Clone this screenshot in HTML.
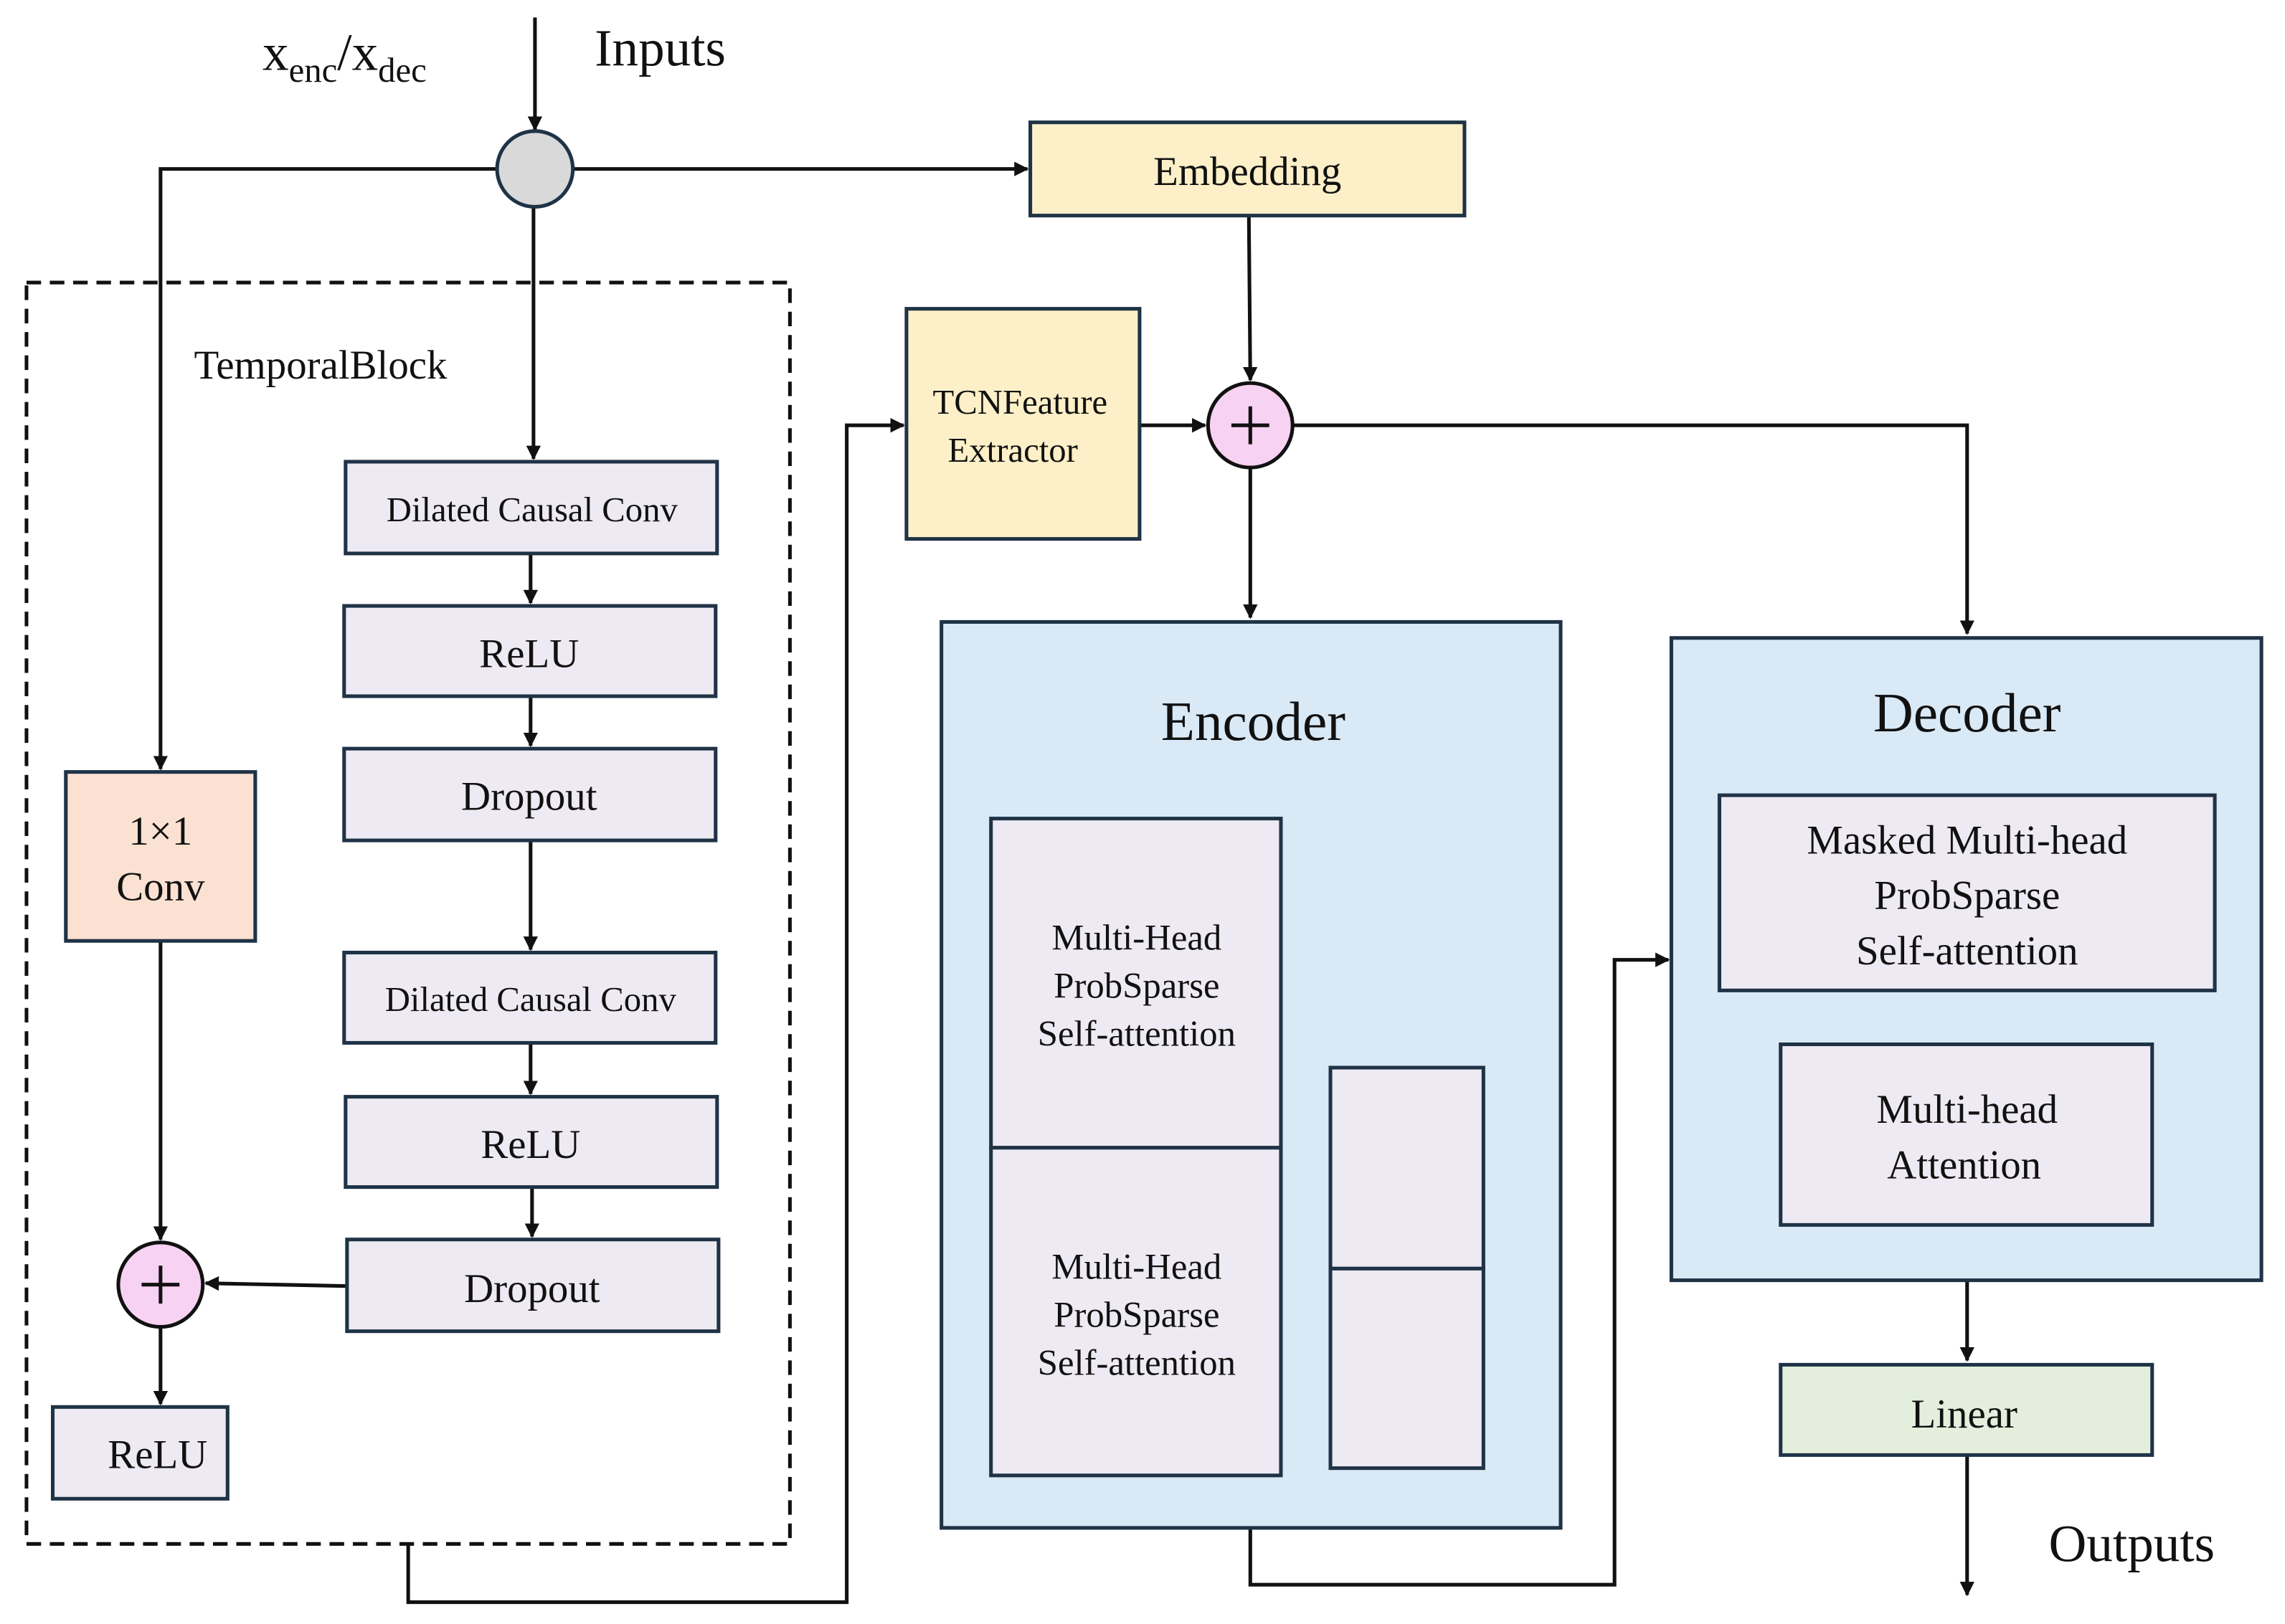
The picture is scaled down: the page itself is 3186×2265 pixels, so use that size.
<!DOCTYPE html>
<html><head><meta charset="utf-8"><style>
html,body{margin:0;padding:0;background:#fff;}
svg{display:block;}
svg text{font-family:"Liberation Serif","DejaVu Serif",serif !important;fill:#111;}
</style></head><body>
<svg width="3186" height="2265" viewBox="0 0 1568 1115" xmlns="http://www.w3.org/2000/svg" font-family="'Liberation Serif', 'DejaVu Serif', serif">
<defs>
<marker id="a" markerWidth="10" markerHeight="10" refX="9" refY="5" orient="auto" markerUnits="userSpaceOnUse">
<path d="M0,0 L10,5 L0,10 z" fill="#111"/></marker>
</defs>
<g stroke="#111" stroke-width="2.5" fill="none">
<line x1="367" y1="12" x2="367" y2="89" marker-end="url(#a)"/>
<polyline points="341,116 110,116 110,528" marker-end="url(#a)"/>
<line x1="393" y1="116" x2="705" y2="116" marker-end="url(#a)"/>
<line x1="366" y1="142" x2="366" y2="315" marker-end="url(#a)"/>
<line x1="364" y1="380" x2="364" y2="414" marker-end="url(#a)"/>
<line x1="364" y1="478" x2="364" y2="512" marker-end="url(#a)"/>
<line x1="364" y1="577" x2="364" y2="652" marker-end="url(#a)"/>
<line x1="364" y1="716" x2="364" y2="751" marker-end="url(#a)"/>
<line x1="365" y1="815" x2="365" y2="849" marker-end="url(#a)"/>
<line x1="110" y1="646" x2="110" y2="851" marker-end="url(#a)"/>
<line x1="238" y1="883" x2="141" y2="881" marker-end="url(#a)"/>
<line x1="110" y1="911" x2="110" y2="964" marker-end="url(#a)"/>
<polyline points="280,1060 280,1100 581,1100 581,292 620,292" marker-end="url(#a)"/>
<line x1="857" y1="148" x2="858" y2="261" marker-end="url(#a)"/>
<line x1="782" y1="292" x2="827" y2="292" marker-end="url(#a)"/>
<polyline points="887,292 1350,292 1350,435" marker-end="url(#a)"/>
<line x1="858" y1="321" x2="858" y2="424" marker-end="url(#a)"/>
<line x1="1350" y1="680" x2="1350" y2="715" marker-end="url(#a)"/>
<line x1="1350" y1="879" x2="1350" y2="934" marker-end="url(#a)"/>
<line x1="1350" y1="999" x2="1350" y2="1095" marker-end="url(#a)"/>
<polyline points="858,1049 858,1088 1108,1088 1108,659 1145,659" marker-end="url(#a)"/>
<rect x="18" y="194" width="524" height="866" stroke-dasharray="10,6"/>
</g>
<g stroke="#1f3347" stroke-width="2.5">
<circle cx="367" cy="116" r="26" fill="#d9d9d9"/>
<rect x="237" y="317" width="255" height="63" fill="#eeeaf3"/>
<rect x="236" y="416" width="255" height="62" fill="#eeeaf3"/>
<rect x="236" y="514" width="255" height="63" fill="#eeeaf3"/>
<rect x="236" y="654" width="255" height="62" fill="#eeeaf3"/>
<rect x="237" y="753" width="255" height="62" fill="#eeeaf3"/>
<rect x="238" y="851" width="255" height="63" fill="#eeeaf3"/>
<rect x="45" y="530" width="130" height="116" fill="#fbe1d2"/>
<circle cx="110" cy="882" r="29" fill="#f8d2f2" stroke="#111"/>
<rect x="36" y="966" width="120" height="63" fill="#eeeaf3"/>
<rect x="622" y="212" width="160" height="158" fill="#fdf0c8"/>
<rect x="707" y="84" width="298" height="64" fill="#fdf0c8"/>
<circle cx="858" cy="292" r="29" fill="#f8d2f2" stroke="#111"/>
<rect x="646" y="427" width="425" height="622" fill="#d9e9f6"/>
<rect x="680" y="562" width="199" height="226" fill="#eeeaf3"/>
<rect x="680" y="788" width="199" height="225" fill="#eeeaf3"/>
<rect x="913" y="733" width="105" height="138" fill="#eeeaf3"/>
<rect x="913" y="871" width="105" height="137" fill="#eeeaf3"/>
<rect x="1147" y="438" width="405" height="441" fill="#d9e9f6"/>
<rect x="1180" y="546" width="340" height="134" fill="#eeeaf3"/>
<rect x="1222" y="717" width="255" height="124" fill="#eeeaf3"/>
<rect x="1222" y="937" width="255" height="62" fill="#e3efdc"/>
</g>
<g stroke="#111" stroke-width="2.5">
<line x1="110" y1="869" x2="110" y2="895"/><line x1="97" y1="882" x2="123" y2="882"/>
<line x1="858" y1="279" x2="858" y2="305"/><line x1="845" y1="292" x2="871" y2="292"/>
</g>
<text x="180" y="48" font-size="36">x<tspan font-size="24" dy="8">enc</tspan><tspan dy="-8">/x</tspan><tspan font-size="24" dy="8">dec</tspan></text>
<text x="408" y="45" font-size="36">Inputs</text>
<text x="133" y="260" font-size="28">TemporalBlock</text>
<g text-anchor="middle">
<text x="365" y="358" font-size="24">Dilated Causal Conv</text>
<text x="363" y="458" font-size="28">ReLU</text>
<text x="363" y="556" font-size="28">Dropout</text>
<text x="364" y="694" font-size="24">Dilated Causal Conv</text>
<text x="364" y="795" font-size="28">ReLU</text>
<text x="365" y="894" font-size="28">Dropout</text>
<text x="110" y="580" font-size="28">1×1</text>
<text x="110" y="618" font-size="28">Conv</text>
<text x="108" y="1008" font-size="28">ReLU</text>
<text x="700" y="284" font-size="24">TCNFeature</text>
<text x="695" y="317" font-size="24">Extractor</text>
<text x="856" y="127" font-size="28">Embedding</text>
<text x="860" y="508" font-size="38">Encoder</text>
<text x="780" y="652" font-size="25">Multi-Head</text>
<text x="780" y="685" font-size="25">ProbSparse</text>
<text x="780" y="718" font-size="25">Self-attention</text>
<text x="780" y="878" font-size="25">Multi-Head</text>
<text x="780" y="911" font-size="25">ProbSparse</text>
<text x="780" y="944" font-size="25">Self-attention</text>
<text x="1350" y="502" font-size="38">Decoder</text>
<text x="1350" y="586" font-size="28">Masked Multi-head</text>
<text x="1350" y="624" font-size="28">ProbSparse</text>
<text x="1350" y="662" font-size="28">Self-attention</text>
<text x="1350" y="771" font-size="28">Multi-head</text>
<text x="1348" y="809" font-size="28">Attention</text>
<text x="1348" y="980" font-size="28">Linear</text>
</g>
<text x="1406" y="1072" font-size="36">Outputs</text>
</svg>
</body></html>
